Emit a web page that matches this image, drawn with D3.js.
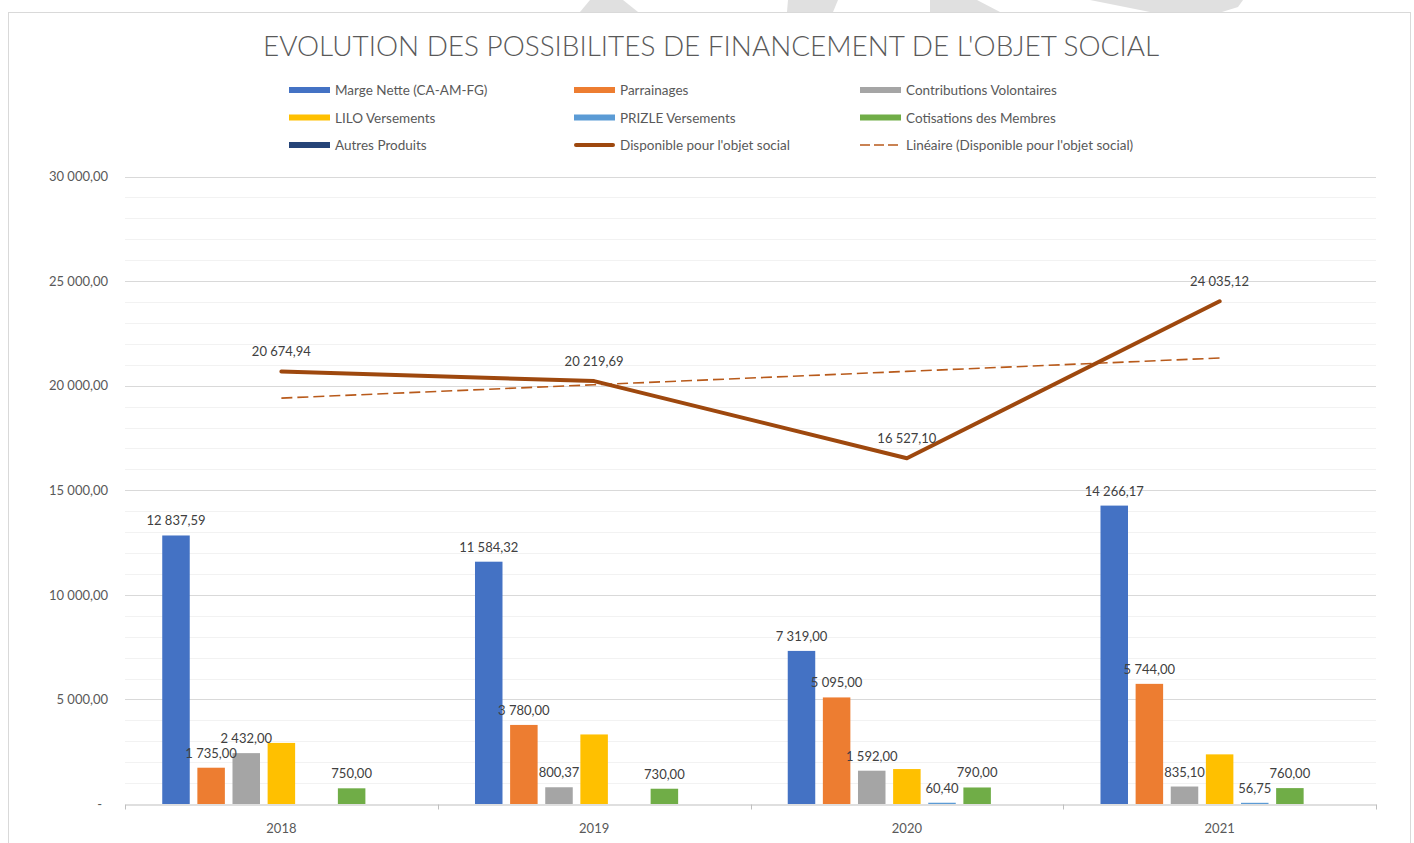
<!DOCTYPE html>
<html>
<head>
<meta charset="utf-8">
<script src="https://cdn.jsdelivr.net/npm/d3@7"></script>
<style>
  body { margin: 0; background: #fff; }
  svg { display: block; font-family: Lato, "Open Sans", sans-serif; }
</style>
</head>
<body>
<div id="chart"></div>
<script>
// values
const categories = ['2018', '2019', '2020', '2021'];

const margeNette    = [12837.59, 11584.32, 7319.00, 14266.17];
const parrainages   = [1735.00, 3780.00, 5095.00, 5744.00];
const contributions = [2432.00, 800.37, 1592.00, 835.10];
const lilo          = [2920.35, 3325.00, 1670.70, 2373.10];
const prizle        = [null, null, 60.40, 56.75];
const cotisations   = [750.00, 730.00, 790.00, 760.00];
const autres        = [null, null, null, null];
const disponible    = [20674.94, 20219.69, 16527.10, 24035.12];

const barNames = ['Marge Nette (CA-AM-FG)', 'Parrainages', 'Contributions Volontaires',
  'LILO Versements', 'PRIZLE Versements', 'Cotisations des Membres', 'Autres Produits'];
const barValues = [margeNette, parrainages, contributions, lilo, prizle, cotisations, autres];
const barColors = ['#4472C4', '#ED7D31', '#A5A5A5', '#FFC000', '#5B9BD5', '#70AD47', '#264478'];
const barLabelled = [true, true, true, false, true, true, false];

const lineName = "Disponible pour l'objet social";
const trendName = "Linéaire (Disponible pour l'objet social)";
const title = "EVOLUTION DES POSSIBILITES DE FINANCEMENT DE L'OBJET SOCIAL";

const width = 1414, height = 843;
const plotLeft = 125, plotRight = 1376, plotTop = 176.5, plotBottom = 804;

const fr = d3.formatLocale({ decimal: ',', thousands: ' ', grouping: [3], currency: ['', ''] });
const fmt = fr.format(',.2f');

const svg = d3.select('#chart').append('svg')
  .attr('width', width)
  .attr('height', height);

// watermark bits peeking above the frame
const wm = [
  [[580, 12], [590, 0], [623, 0], [638, 12]],
  [[787, 12], [788, 0], [838, 0], [833, 12]],
  [[930, 12], [930, 0], [977, 0], [1000, 12]],
  [[1150, 12], [1090, 0], [1243, 0], [1238, 7], [1222, 12]]
];
svg.selectAll('path.wm').data(wm).enter().append('path')
  .attr('class', 'wm')
  .attr('d', d => d3.line()(d) + 'Z')
  .attr('fill', '#e0e0e0');

svg.append('rect')
  .attr('x', 8.5).attr('y', 12.5)
  .attr('width', 1402).attr('height', 900)
  .attr('fill', '#fff')
  .attr('stroke', '#d9d9d9');

svg.append('text')
  .attr('x', 711).attr('y', 56)
  .attr('text-anchor', 'middle')
  .style('font-size', '27.9px')
  .style('font-weight', 300)
  .style('fill', '#595959')
  .text(title);

// scales
const x0 = d3.scaleBand().domain(categories).range([plotLeft, plotRight]);
const x1 = d3.scaleBand().domain(d3.range(barNames.length))
  .range([0, x0.bandwidth()])
  .paddingInner(0.217)
  .paddingOuter(1.06);
const y = d3.scaleLinear().domain([0, 30000]).range([plotBottom, plotTop]);

// gridlines
svg.append('g').selectAll('line')
  .data(d3.range(1000, 30001, 1000))
  .enter().append('line')
  .attr('x1', plotLeft).attr('x2', plotRight)
  .attr('y1', d => Math.round(y(d)) + 0.5)
  .attr('y2', d => Math.round(y(d)) + 0.5)
  .attr('stroke', d => d % 5000 === 0 ? '#d9d9d9' : '#f2f2f2')
  .attr('stroke-width', 1);

// y axis labels
const yAxis = svg.append('g')
  .attr('transform', 'translate(' + (plotLeft - 17) + ',0)')
  .call(d3.axisLeft(y).tickValues(d3.range(0, 30001, 5000)).tickSize(0).tickPadding(0)
    .tickFormat(d => d === 0 ? '-' : fmt(d)));
yAxis.select('.domain').remove();
yAxis.selectAll('text')
  .attr('dx', d => d === 0 ? -6 : 0)
  .style('font-family', 'Lato, sans-serif')
  .style('font-size', '13px')
  .style('fill', '#595959');

// x axis
const xAxis = svg.append('g')
  .attr('transform', 'translate(0,' + (plotBottom + 0.5) + ')')
  .call(d3.axisBottom(x0).tickSize(0).tickPadding(19));
xAxis.select('.domain').attr('stroke', '#bfbfbf');
xAxis.selectAll('text')
  .style('font-family', 'Lato, sans-serif')
  .style('font-size', '13px')
  .style('fill', '#595959');
xAxis.selectAll('line.sep')
  .data(d3.range(categories.length + 1))
  .enter().append('line')
  .attr('class', 'sep')
  .attr('x1', i => Math.round(plotLeft + i * x0.step()) + 0.5)
  .attr('x2', i => Math.round(plotLeft + i * x0.step()) + 0.5)
  .attr('y1', 0).attr('y2', 5)
  .attr('stroke', '#bfbfbf');

// bars
const barData = [];
barValues.forEach((vals, s) => {
  vals.forEach((v, c) => {
    if (v !== null) barData.push({ s: s, c: c, v: v });
  });
});

const plot = svg.append('g');
plot.selectAll('rect.bar')
  .data(barData)
  .enter().append('rect')
  .attr('class', 'bar')
  .attr('x', d => x0(categories[d.c]) + x1(d.s))
  .attr('y', d => y(d.v))
  .attr('width', x1.bandwidth())
  .attr('height', d => plotBottom - y(d.v))
  .attr('fill', d => barColors[d.s]);

// trendline (least squares over category index)
const xs = disponible.map((d, i) => i + 1);
const mx = d3.mean(xs), my = d3.mean(disponible);
const slope = d3.sum(xs, (xi, i) => (xi - mx) * (disponible[i] - my)) / d3.sum(xs, xi => (xi - mx) * (xi - mx));
const trend = xs.map(xi => my + slope * (xi - mx));

const cx = i => x0(categories[i]) + x0.bandwidth() / 2;

plot.append('path')
  .datum(trend)
  .attr('d', d3.line().x((d, i) => cx(i)).y(d => y(d)))
  .attr('fill', 'none')
  .attr('stroke', '#B85A1B')
  .attr('stroke-width', 1.6)
  .attr('stroke-dasharray', '11,5');

plot.append('path')
  .datum(disponible)
  .attr('d', d3.line().x((d, i) => cx(i)).y(d => y(d)))
  .attr('fill', 'none')
  .attr('stroke', '#9E480E')
  .attr('stroke-width', 4)
  .attr('stroke-linejoin', 'round')
  .attr('stroke-linecap', 'round');

// data labels
const labels = svg.append('g')
  .style('font-size', '13px')
  .style('fill', '#404040')
  .attr('text-anchor', 'middle');

labels.selectAll('text.bl')
  .data(barData.filter(d => barLabelled[d.s]))
  .enter().append('text')
  .attr('class', 'bl')
  .attr('x', d => x0(categories[d.c]) + x1(d.s) + x1.bandwidth() / 2)
  .attr('y', d => y(d.v) - 10)
  .text(d => fmt(d.v));

labels.selectAll('text.ll')
  .data(disponible)
  .enter().append('text')
  .attr('class', 'll')
  .attr('x', (d, i) => cx(i))
  .attr('y', d => y(d) - 15.5)
  .text(d => fmt(d));

// legend
const legendItems = barNames.map((n, i) => ({ name: n, type: 'bar', color: barColors[i] }))
  .concat([
    { name: lineName, type: 'line', color: '#9E480E' },
    { name: trendName, type: 'dash', color: '#B85A1B' }
  ]);
const colX = [289, 574, 860];
const rowY = [95, 122.5, 150];

const legend = svg.append('g')
  .selectAll('g')
  .data(legendItems)
  .enter().append('g')
  .attr('transform', (d, i) => 'translate(' + colX[i % 3] + ',' + rowY[Math.floor(i / 3)] + ')');

legend.filter(d => d.type === 'bar').append('rect')
  .attr('x', 0).attr('y', -8)
  .attr('width', 41).attr('height', 6)
  .attr('fill', d => d.color);

legend.filter(d => d.type !== 'bar').append('line')
  .attr('x1', d => d.type === 'line' ? 2 : 0)
  .attr('x2', d => d.type === 'line' ? 39 : 41)
  .attr('y1', -5).attr('y2', -5)
  .attr('stroke', d => d.color)
  .attr('stroke-width', d => d.type === 'line' ? 4 : 1.6)
  .attr('stroke-linecap', d => d.type === 'line' ? 'round' : 'butt')
  .attr('stroke-dasharray', d => d.type === 'dash' ? '10,4' : null);

legend.append('text')
  .attr('x', 46).attr('y', 0)
  .style('font-size', '13.5px')
  .style('fill', '#595959')
  .text(d => d.name);
</script>
</body>
</html>
